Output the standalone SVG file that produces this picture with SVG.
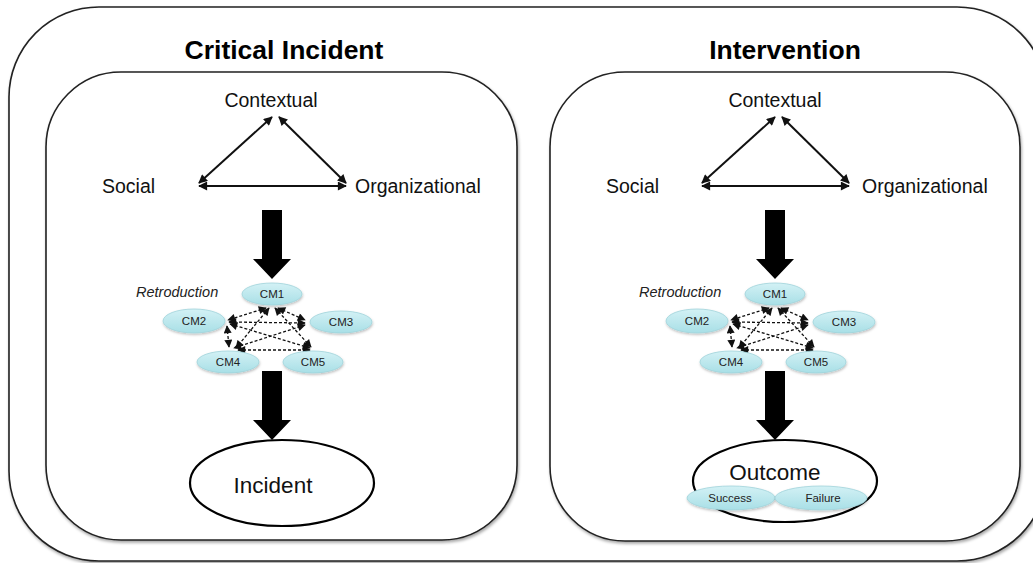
<svg xmlns="http://www.w3.org/2000/svg" width="1033" height="563" viewBox="0 0 1033 563">
  <defs>
    <style>
      .frame { fill: #fff; stroke: #222; stroke-width: 1.6; }
      .title { font-family: "Liberation Sans", Arial, sans-serif; font-weight: bold; font-size: 26.5px; fill: #000; text-anchor: middle; }
      .lbl { font-family: "Liberation Sans", Arial, sans-serif; font-size: 19.5px; fill: #111; }
      .retro { font-family: "Liberation Sans", Arial, sans-serif; font-style: italic; font-size: 14.5px; fill: #222; }
      .cm { fill: url(#cmFill); stroke: #9fd3da; stroke-width: 0.8; filter: url(#softShadow); }
      .cmtxt { font-family: "Liberation Sans", Arial, sans-serif; font-size: 11.5px; fill: #222; text-anchor: middle; }
      .big { font-family: "Liberation Sans", Arial, sans-serif; font-size: 22.5px; fill: #111; text-anchor: middle; }
      .res { font-family: "Liberation Sans", Arial, sans-serif; font-size: 11.5px; fill: #222; text-anchor: middle; }
      .oval { fill: #fff; stroke: #000; stroke-width: 2.2; }
      .tri { fill: none; stroke: #111; stroke-width: 2; marker-start: url(#solidHead); marker-end: url(#solidHead); }
      .dash { fill: none; stroke: #111; stroke-width: 1.3; stroke-dasharray: 3 2; marker-start: url(#smallHead); marker-end: url(#smallHead); }
      .block { fill: #000; }
    </style>
    <linearGradient id="cmFill" x1="0" y1="0" x2="0" y2="1">
      <stop offset="0" stop-color="#d3f1f5"/>
      <stop offset="1" stop-color="#a8dfe6"/>
    </linearGradient>
    <filter id="boxShadow" x="-5%" y="-5%" width="110%" height="110%">
      <feDropShadow dx="1" dy="2" stdDeviation="1.4" flood-color="#000" flood-opacity="0.35"/>
    </filter>
    <filter id="softShadow" x="-20%" y="-20%" width="140%" height="160%">
      <feDropShadow dx="0.5" dy="1.5" stdDeviation="1" flood-color="#000" flood-opacity="0.25"/>
    </filter>
    <marker id="solidHead" viewBox="0 0 10 10" refX="9" refY="5" markerWidth="10" markerHeight="9" markerUnits="userSpaceOnUse" orient="auto-start-reverse">
      <path d="M0,0 L10,5 L0,10 z" fill="#111"/>
    </marker>
    <marker id="smallHead" viewBox="0 0 10 10" refX="9" refY="5" markerWidth="9" markerHeight="8" markerUnits="userSpaceOnUse" orient="auto-start-reverse">
      <path d="M0,0 L10,5 L0,10 z" fill="#111"/>
    </marker>
    <!-- thick downward block arrow, tip at origin -->
    <path id="blockArrow" d="M-10,-69 L10,-69 L10,-20 L19,-20 L0,0 L-19,-20 L-10,-20 z"/>
  </defs>

  <!-- outer frame -->
  <rect class="frame" x="9" y="7" width="1038" height="554" rx="90" ry="90" filter="url(#boxShadow)"/>

  <!-- left panel: Critical Incident -->
  <g id="panel-critical-incident">
    <rect class="frame" x="46" y="72" width="471" height="468" rx="75" ry="75" filter="url(#boxShadow)"/>
    <text class="title" x="284" y="59">Critical Incident</text>

    <g id="ci-contextual"><text class="lbl" x="271" y="107" text-anchor="middle">Contextual</text></g>
    <g id="ci-social"><text class="lbl" x="102" y="193">Social</text></g>
    <g id="ci-organizational"><text class="lbl" x="355" y="193">Organizational</text></g>

    <g id="ci-connectors">
      <line class="tri" x1="199" y1="183" x2="272" y2="117"/>
      <line class="tri" x1="346" y1="183" x2="279" y2="117"/>
      <line class="tri" x1="199" y1="186" x2="346" y2="186"/>
      <use href="#blockArrow" class="block" x="272" y="279"/>
      <use href="#blockArrow" class="block" x="272" y="440"/>
      <line class="dash" x1="266" y1="308" x2="228" y2="320"/>
      <line class="dash" x1="278" y1="308" x2="305" y2="320"/>
      <line class="dash" x1="269" y1="308" x2="236" y2="348"/>
      <line class="dash" x1="275" y1="308" x2="311" y2="347"/>
      <line class="dash" x1="229" y1="322" x2="305" y2="323"/>
      <line class="dash" x1="227" y1="326" x2="229" y2="347"/>
      <line class="dash" x1="230" y1="324" x2="310" y2="348"/>
      <line class="dash" x1="305" y1="325" x2="234" y2="348"/>
      <line class="dash" x1="238" y1="350" x2="310" y2="350"/>
    </g>

    <text class="retro" x="136" y="297">Retroduction</text>
    <g id="ci-cm1"><ellipse class="cm" cx="272" cy="294" rx="30" ry="11"/><text class="cmtxt" x="272" y="298">CM1</text></g>
    <g id="ci-cm2"><ellipse class="cm" cx="194" cy="321" rx="31" ry="12"/><text class="cmtxt" x="194" y="325">CM2</text></g>
    <g id="ci-cm3"><ellipse class="cm" cx="341" cy="322" rx="31" ry="11"/><text class="cmtxt" x="341" y="326">CM3</text></g>
    <g id="ci-cm4"><ellipse class="cm" cx="228" cy="362" rx="31" ry="11"/><text class="cmtxt" x="228" y="366">CM4</text></g>
    <g id="ci-cm5"><ellipse class="cm" cx="313" cy="362" rx="30" ry="11"/><text class="cmtxt" x="313" y="366">CM5</text></g>

    <g id="ci-incident">
      <ellipse class="oval" cx="282" cy="483" rx="92" ry="43"/>
      <text class="big" x="273" y="493">Incident</text>
    </g>
  </g>

  <!-- right panel: Intervention -->
  <g id="panel-intervention">
    <rect class="frame" x="550" y="72" width="470" height="469" rx="75" ry="75" filter="url(#boxShadow)"/>
    <text class="title" x="785" y="59">Intervention</text>

    <g transform="translate(503,0)">
      <g id="iv-contextual"><text class="lbl" x="272" y="107" text-anchor="middle">Contextual</text></g>
      <g id="iv-social"><text class="lbl" x="103" y="193">Social</text></g>
      <g id="iv-organizational"><text class="lbl" x="359" y="193">Organizational</text></g>

      <g id="iv-connectors">
        <line class="tri" x1="199" y1="183" x2="272" y2="117"/>
        <line class="tri" x1="346" y1="183" x2="279" y2="117"/>
        <line class="tri" x1="199" y1="186" x2="346" y2="186"/>
        <use href="#blockArrow" class="block" x="272" y="279"/>
        <use href="#blockArrow" class="block" x="272" y="440"/>
        <line class="dash" x1="266" y1="308" x2="228" y2="320"/>
        <line class="dash" x1="278" y1="308" x2="305" y2="320"/>
        <line class="dash" x1="269" y1="308" x2="236" y2="348"/>
        <line class="dash" x1="275" y1="308" x2="311" y2="347"/>
        <line class="dash" x1="229" y1="322" x2="305" y2="323"/>
        <line class="dash" x1="227" y1="326" x2="229" y2="347"/>
        <line class="dash" x1="230" y1="324" x2="310" y2="348"/>
        <line class="dash" x1="305" y1="325" x2="234" y2="348"/>
        <line class="dash" x1="238" y1="350" x2="310" y2="350"/>
      </g>

      <text class="retro" x="136" y="297">Retroduction</text>
      <g id="iv-cm1"><ellipse class="cm" cx="272" cy="294" rx="30" ry="11"/><text class="cmtxt" x="272" y="298">CM1</text></g>
      <g id="iv-cm2"><ellipse class="cm" cx="194" cy="321" rx="31" ry="12"/><text class="cmtxt" x="194" y="325">CM2</text></g>
      <g id="iv-cm3"><ellipse class="cm" cx="341" cy="322" rx="31" ry="11"/><text class="cmtxt" x="341" y="326">CM3</text></g>
      <g id="iv-cm4"><ellipse class="cm" cx="228" cy="362" rx="31" ry="11"/><text class="cmtxt" x="228" y="366">CM4</text></g>
      <g id="iv-cm5"><ellipse class="cm" cx="313" cy="362" rx="30" ry="11"/><text class="cmtxt" x="313" y="366">CM5</text></g>

      <g id="iv-outcome">
        <ellipse class="oval" cx="282" cy="481" rx="92" ry="41"/>
        <text class="big" x="272" y="480">Outcome</text>
        <g id="iv-success"><ellipse class="cm" cx="228" cy="498" rx="44" ry="12"/><text class="res" x="227" y="502">Success</text></g>
        <g id="iv-failure"><ellipse class="cm" cx="318" cy="498" rx="46" ry="12"/><text class="res" x="320" y="502">Failure</text></g>
      </g>
    </g>
  </g>
</svg>
